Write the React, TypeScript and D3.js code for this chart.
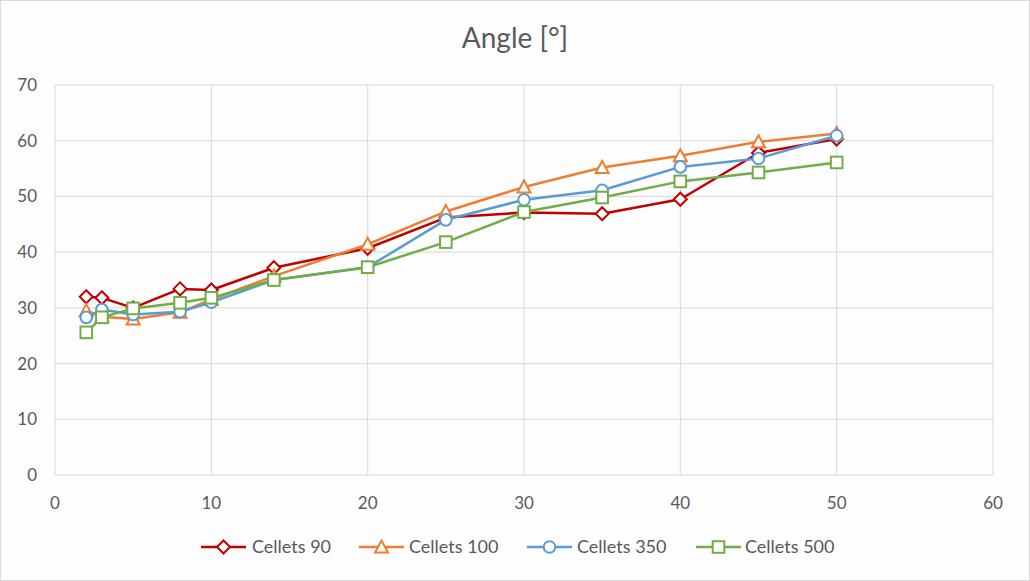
import * as d3 from 'd3';
import React from 'react';

const xValues = [2, 3, 5, 8, 10, 14, 20, 25, 30, 35, 40, 45, 50];
const cellets90 = [32.0, 31.8, 30.0, 33.4, 33.2, 37.2, 40.7, 46.2, 47.1, 46.9, 49.5, 57.8, 60.3];
const cellets100 = [29.5, 28.4, 28.0, 29.2, 31.5, 35.7, 41.4, 47.3, 51.7, 55.2, 57.3, 59.8, 61.3];
const cellets350 = [28.3, 29.7, 28.8, 29.3, 31.0, 35.0, 37.3, 45.8, 49.4, 51.1, 55.3, 56.8, 60.9];
const cellets500 = [25.6, 28.3, 29.9, 30.9, 31.8, 35.0, 37.3, 41.8, 47.2, 49.8, 52.7, 54.3, 56.1];
const xTicks = [0, 10, 20, 30, 40, 50, 60];
const yTicks = [0, 10, 20, 30, 40, 50, 60, 70];

const series = [
  { name: 'Cellets 90', values: cellets90, color: '#C00000', shape: 'diamond' },
  { name: 'Cellets 100', values: cellets100, color: '#ED7D31', shape: 'triangle' },
  { name: 'Cellets 350', values: cellets350, color: '#5B9BD5', shape: 'circle' },
  { name: 'Cellets 500', values: cellets500, color: '#70AD47', shape: 'square' },
];

const width = 1030;
const height = 581;
const left = 55;
const right = 993;
const top = 85;
const bottom = 475;
const font = 'Lato, "Open Sans", sans-serif';
const textColor = '#595959';

function Marker({ shape, x, y, color }: { shape: string; x: number; y: number; color: string }) {
  const common = { fill: '#fff', stroke: color, strokeWidth: 2 };
  if (shape === 'diamond') {
    const r = 6.5;
    return <path d={`M${x},${y - r}L${x + r},${y}L${x},${y + r}L${x - r},${y}Z`} {...common} />;
  }
  if (shape === 'triangle') {
    const r = 6.5;
    return <path d={`M${x},${y - r}L${x + r},${y + r * 0.85}L${x - r},${y + r * 0.85}Z`} {...common} />;
  }
  if (shape === 'circle') {
    return <circle cx={x} cy={y} r={5.8} {...common} />;
  }
  return <rect x={x - 5.8} y={y - 5.8} width={11.6} height={11.6} {...common} />;
}

export default function App() {
  const xScale = d3.scaleLinear().domain([0, 60]).range([left, right]);
  const yScale = d3.scaleLinear().domain([0, 70]).range([bottom, top]);
  const line = d3
    .line<number>()
    .x((d, i) => xScale(xValues[i]))
    .y((d) => yScale(d));

  // legend slots: line start and text start
  const legendItems = [
    { x: 201, textX: 252 },
    { x: 359, textX: 409 },
    { x: 527, textX: 577 },
    { x: 696, textX: 745 },
  ];

  return (
    <div style={{ position: 'fixed', left: 0, top: 0 }}>
      <svg width={width} height={height} style={{ display: 'block' }}>
        <rect x={0.5} y={0.5} width={width - 1} height={height - 1} fill="#fdfdfd" stroke="#d9d9d9" />
        <text x={515} y={48} textAnchor="middle" fontFamily={font} fontSize={28} fill={textColor}>
          Angle [°]
        </text>
        <g className="grid">
          {yTicks.map((t) => (
            <line key={'y' + t} x1={left} x2={right} y1={yScale(t)} y2={yScale(t)} stroke="#d9d9d9" strokeWidth={1} />
          ))}
          {xTicks.map((t) => (
            <line key={'x' + t} x1={xScale(t)} x2={xScale(t)} y1={top} y2={bottom} stroke="#d9d9d9" strokeWidth={1} />
          ))}
        </g>
        <g className="y-labels">
          {yTicks.map((t) => (
            <text key={t} x={37} y={yScale(t) + 6} textAnchor="end" fontFamily={font} fontSize={17} fill={textColor}>
              {t}
            </text>
          ))}
        </g>
        <g className="x-labels">
          {xTicks.map((t) => (
            <text key={t} x={xScale(t)} y={509} textAnchor="middle" fontFamily={font} fontSize={17} fill={textColor}>
              {t}
            </text>
          ))}
        </g>
        {series.map((s) => (
          <g key={s.name}>
            <path d={line(s.values) || ''} fill="none" stroke={s.color} strokeWidth={2.5} strokeLinejoin="round" />
            {s.values.map((v, i) => (
              <Marker key={i} shape={s.shape} x={xScale(xValues[i])} y={yScale(v)} color={s.color} />
            ))}
          </g>
        ))}
        <g className="legend">
          {series.map((s, i) => {
            const it = legendItems[i];
            return (
              <g key={s.name}>
                <line x1={it.x} x2={it.x + 45} y1={547} y2={547} stroke={s.color} strokeWidth={2.5} />
                <Marker shape={s.shape} x={it.x + 22.5} y={547} color={s.color} />
                <text x={it.textX} y={553} fontFamily={font} fontSize={18} fill={textColor}>
                  {s.name}
                </text>
              </g>
            );
          })}
        </g>
      </svg>
    </div>
  );
}
